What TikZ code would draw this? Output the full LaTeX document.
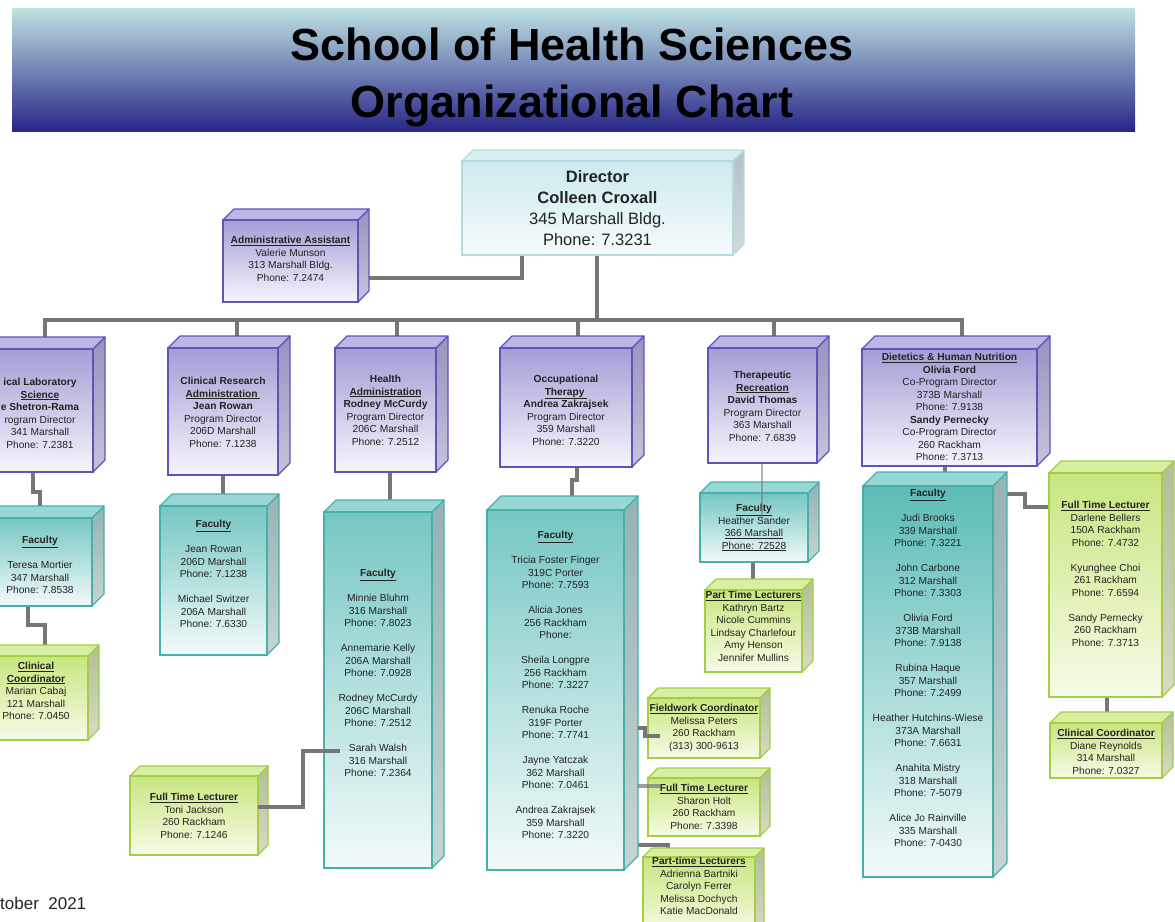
\documentclass[tikz,border=0pt]{standalone}
\usepackage{fontspec}
\setmainfont{Liberation Sans}
\usetikzlibrary{backgrounds}
\definecolor{purline}{RGB}{92,86,186}
\definecolor{purA}{RGB}{163,158,214}
\definecolor{purB}{RGB}{246,245,252}
\definecolor{purT}{RGB}{186,183,229}
\definecolor{purS}{RGB}{150,147,190}
\definecolor{tealine}{RGB}{72,176,170}
\definecolor{teaA}{RGB}{118,199,194}
\definecolor{teaB}{RGB}{242,250,250}
\definecolor{teaT}{RGB}{152,216,212}
\definecolor{teaS}{RGB}{150,178,178}
\definecolor{dteA}{RGB}{92,188,182}
\definecolor{greline}{RGB}{162,206,72}
\definecolor{greA}{RGB}{200,230,128}
\definecolor{greB}{RGB}{246,251,230}
\definecolor{greT}{RGB}{216,238,160}
\definecolor{greS}{RGB}{180,190,152}
\definecolor{dirline}{RGB}{176,220,224}
\definecolor{dirA}{RGB}{204,234,238}
\definecolor{dirB}{RGB}{246,251,252}
\definecolor{dirT}{RGB}{216,238,240}
\definecolor{dirS}{RGB}{180,194,196}
\definecolor{conngray}{RGB}{118,118,118}
\definecolor{txt}{RGB}{35,35,35}
\definecolor{banA}{RGB}{190,226,226}
\definecolor{banB}{RGB}{40,38,136}
\tikzset{
  x=1pt, y=-1pt,
  boxtext/.style={align=center, inner sep=0pt, text=txt, font=\fontsize{10.2}{12.5}\selectfont},
  conn/.style={draw=conngray, line width=3.2pt},
  % purple
  purfront/.style={draw=purline, line width=1.1pt, top color=purA, bottom color=purB},
  purtopf/.style={fill=purT, draw=purline, line width=1.1pt, line join=round},
  purside/.style={top color=purS, bottom color=purS!55!white, draw=purline, line width=1.1pt, line join=round},
  purtext/.style={boxtext},
  % teal
  teafront/.style={draw=tealine, line width=1.1pt, top color=teaA, bottom color=teaB},
  teatopf/.style={fill=teaT, draw=tealine, line width=1.1pt, line join=round},
  teaside/.style={top color=teaS, bottom color=teaS!55!white, draw=tealine, line width=1.1pt, line join=round},
  teatext/.style={boxtext},
  % dark teal
  dtefront/.style={draw=tealine, line width=1.1pt, top color=dteA, bottom color=teaB},
  dtetopf/.style={teatopf},
  dteside/.style={teaside},
  dtetext/.style={boxtext},
  % green
  grefront/.style={draw=greline, line width=1.1pt, top color=greA, bottom color=greB},
  gretopf/.style={fill=greT, draw=greline, line width=1.1pt, line join=round},
  greside/.style={top color=greS, bottom color=greS!55!white, draw=greline, line width=1.1pt, line join=round},
  gretext/.style={boxtext},
  % director
  dirfront/.style={draw=dirline, line width=1.1pt, top color=dirA, bottom color=dirB},
  dirtopf/.style={fill=dirT, draw=dirline, line width=1.1pt, line join=round},
  dirside/.style={top color=dirS, bottom color=dirS!60!white, draw=dirline, line width=1.1pt, line join=round},
  dirtext/.style={align=center, inner sep=0pt, text=txt, font=\fontsize{16.5}{21}\selectfont},
  banner/.style={top color=banA, bottom color=banB, inner sep=0pt},
  titletext/.style={inner sep=0pt, anchor=base, font=\fontsize{45}{57}\selectfont\bfseries, text=black},
}
% #1 name #2 kind #3 x1 #4 y1 #5 x2 #6 y2 #7 depth #8 text top #9 text
\newcommand{\isobox}[9]{%
  \path[#2side] (#5,#4) -- ({#5+#7},{#4-#7}) -- ({#5+#7},{#6-#7}) -- (#5,#6) -- cycle;
  \path[#2topf] (#3,#4) -- ({#3+#7},{#4-#7}) -- ({#5+#7},{#4-#7}) -- (#5,#4) -- cycle;
  \node[#2front, anchor=north west, inner sep=0pt, outer sep=0pt,
        minimum width={((#5)-(#3))*1pt}, minimum height={((#6)-(#4))*1pt}] (#1) at (#3,#4) {};
  \node[#2text, anchor=north] (#1-t) at ({((#3)+(#5))/2},#8) {#9};
}
\newcommand{\hd}[1]{\textbf{\underline{#1}}}
\begin{document}
\begin{tikzpicture}
\useasboundingbox (0,0) rectangle (1175,921);
\begin{pgfonlayer}{background}
\fill[white] (0,0) rectangle (1175,921);
\end{pgfonlayer}

% title banner
\node[banner, anchor=north west, minimum width=1123pt, minimum height=123pt] (banner) at (12,8) {};
\node[titletext] (title1) at (572,60) {School of Health Sciences};
\node[titletext] (title2) at (572,117) {Organizational Chart};

% director and admin
\isobox{dir}{dir}{462}{161}{733}{255}{11}{170}{\textbf{Director}\\\textbf{Colleen Croxall}\\345 Marshall Bldg.\\Phone: 7.3231}
\isobox{adm}{pur}{223}{220}{358}{302}{11}{236}{\hd{Administrative Assistant}\\Valerie Munson\\313 Marshall Bldg.\\Phone: 7.2474}

% program boxes
\isobox{cl}{pur}{-13}{349}{93}{472}{12}{378}{\textbf{ical Laboratory}\\\hd{Science}\\\textbf{e Shetron-Rama}\\rogram Director\\341 Marshall\\Phone: 7.2381}
\isobox{cr}{pur}{168}{348}{278}{475}{12}{377}{\textbf{Clinical Research}\\\hd{Administration }\\\textbf{Jean Rowan}\\Program Director\\206D Marshall\\Phone: 7.1238}
\isobox{ha}{pur}{335}{348}{436}{472}{12}{375}{\textbf{Health}\\\hd{Administration}\\\textbf{Rodney McCurdy}\\Program Director\\206C Marshall\\Phone: 7.2512}
\isobox{ot}{pur}{500}{348}{632}{467}{12}{375}{\textbf{Occupational}\\\hd{Therapy }\\\textbf{Andrea Zakrajsek}\\Program Director\\359 Marshall\\Phone: 7.3220}
\isobox{tr}{pur}{708}{348}{817}{463}{12}{371}{\textbf{Therapeutic}\\\hd{Recreation}\\\textbf{David Thomas}\\Program Director\\363 Marshall\\Phone: 7.6839}
\isobox{dt}{pur}{862}{349}{1037}{466}{13}{353}{\hd{Dietetics \& Human Nutrition}\\\textbf{Olivia Ford}\\Co-Program Director\\373B Marshall\\Phone: 7.9138\\\textbf{Sandy Pernecky}\\Co-Program Director\\260 Rackham\\Phone: 7.3713}

% faculty boxes
\isobox{clf}{tea}{-12}{518}{92}{606}{12}{536}{\hd{Faculty}\\[12.5pt]Teresa Mortier\\347 Marshall\\Phone: 7.8538}
\isobox{crf}{tea}{160}{506}{267}{655}{12}{520}{\hd{Faculty}\\[12.5pt]Jean Rowan\\206D Marshall\\Phone: 7.1238\\[12.5pt]Michael Switzer\\206A Marshall\\Phone: 7.6330}
\isobox{haf}{tea}{324}{512}{432}{868}{12}{569}{\hd{Faculty}\\[12.5pt]Minnie Bluhm\\316 Marshall\\Phone: 7.8023\\[12.5pt]Annemarie Kelly\\206A Marshall\\Phone: 7.0928\\[12.5pt]Rodney McCurdy\\206C Marshall\\Phone: 7.2512\\[12.5pt]Sarah Walsh\\316 Marshall\\Phone: 7.2364}
\isobox{otf}{tea}{487}{510}{624}{870}{14}{531}{\hd{Faculty}\\[12.5pt]Tricia Foster Finger\\319C Porter\\Phone: 7.7593\\[12.5pt]Alicia Jones\\256 Rackham\\Phone:\\[12.5pt]Sheila Longpre\\256 Rackham\\Phone: 7.3227\\[12.5pt]Renuka Roche\\319F Porter\\Phone: 7.7741\\[12.5pt]Jayne Yatczak\\362 Marshall\\Phone: 7.0461\\[12.5pt]Andrea Zakrajsek\\359 Marshall\\Phone: 7.3220}
\isobox{trf}{tea}{700}{493}{808}{562}{11}{504}{\hd{Faculty}\\Heather Sander\\\underline{366 Marshall}\\\underline{Phone: 72528}}
\isobox{dtf}{dte}{863}{486}{993}{877}{14}{489}{\hd{Faculty}\\[12.5pt]Judi Brooks\\339 Marshall\\Phone: 7.3221\\[12.5pt]John Carbone\\312 Marshall\\Phone: 7.3303\\[12.5pt]Olivia Ford\\373B Marshall\\Phone: 7.9138\\[12.5pt]Rubina Haque\\357 Marshall\\Phone: 7.2499\\[12.5pt]Heather Hutchins-Wiese\\373A Marshall\\Phone: 7.6631\\[12.5pt]Anahita Mistry\\318 Marshall\\Phone: 7-5079\\[12.5pt]Alice Jo Rainville\\335 Marshall\\Phone: 7-0430}

% green boxes
\isobox{clc}{gre}{-16}{656}{88}{740}{11}{662}{\hd{Clinical}\\\hd{Coordinator}\\Marian Cabaj\\121 Marshall\\Phone: 7.0450}
\isobox{ftla}{gre}{130}{776}{258}{855}{10}{793}{\hd{Full Time Lecturer}\\Toni Jackson\\260 Rackham\\Phone: 7.1246}
\isobox{fw}{gre}{648}{698}{760}{758}{10}{704}{\hd{Fieldwork Coordinator}\\Melissa Peters\\260 Rackham\\(313) 300-9613}
\isobox{ftlb}{gre}{648}{778}{760}{836}{10}{784}{\hd{Full Time Lecturer}\\Sharon Holt\\260 Rackham\\Phone: 7.3398}
\isobox{ptl}{gre}{643}{857}{755}{935}{9}{857}{\hd{Part-time Lecturers}\\Adrienna Bartniki\\Carolyn Ferrer\\Melissa Dochych\\Katie MacDonald}
\isobox{trp}{gre}{705}{590}{802}{672}{11}{591}{\hd{Part Time Lecturers}\\Kathryn Bartz\\Nicole Cummins\\Lindsay Charlefour\\Amy Henson\\Jennifer Mullins}
\isobox{dtl}{gre}{1049}{473}{1162}{697}{12}{501}{\hd{Full Time Lecturer}\\Darlene Bellers\\150A Rackham\\Phone: 7.4732\\[12.5pt]Kyunghee Choi\\261 Rackham\\Phone: 7.6594\\[12.5pt]Sandy Pernecky\\260 Rackham\\Phone: 7.3713}
\isobox{dtc}{gre}{1050}{723}{1162}{778}{11}{729}{\hd{Clinical Coordinator}\\Diane Reynolds\\314 Marshall\\Phone: 7.0327}

% date
\node[anchor=base west, inner sep=0pt, font=\fontsize{17}{19}\selectfont, text=txt] (date) at (0,909) {tober\ \ 2021};

% connectors behind the boxes
\begin{pgfonlayer}{background}
\coordinate (bus) at (597,320);
\draw[conn] (dir.south -| 522,0) |- (adm.east |- 0,278);
\draw[conn, line width=4.5pt] (dir.south -| bus) -- (bus);
\draw[conn] (cl.north -| 45,0) |- (bus) -| (dt.north -| 962,0);
\foreach \n/\xx in {cr/237, ha/397, ot/578, tr/774} {
  \draw[conn] (\n.north -| \xx,0) -- (\xx,320);
}
\draw[conn] (cl.south -| 33,0) |- (40,492) -- (clf.north -| 40,0);
\draw[conn] (clf.south -| 28,0) |- (45,625) -- (clc.north -| 45,0);
\draw[conn] (cr.south -| 223,0) -- (crf.north -| 223,0);
\draw[conn] (ha.south -| 390,0) -- (haf.north -| 390,0);
\draw[conn] (ot.south -| 577,0) |- (572,480) -- (otf.north -| 572,0);
\draw[conn] (trf.south -| 753,0) -- (trp.north -| 753,0);
\draw[conn] (dt.south -| 945,0) -- (dtf.north -| 945,0);
\draw[conn] (dtf.east |- 0,494) -- (1025,494) |- (dtl.west |- 0,507);
\draw[conn] (dtl.south -| 1107,0) -- (dtc.north -| 1107,0);
\draw[conn] (otf.east |- 0,845) -| (ptl.north -| 668,0);
\end{pgfonlayer}

% connectors that run over the boxes
\draw[conn] (ftla.east |- 0,807) -- (303,807) |- ([xshift=16pt]haf.west |- 0,751);
\draw[conn] ([xshift=14pt]otf.east |- 0,728) -- (645,728) |- ([xshift=12pt]fw.west |- 0,736);
\draw[conn, opacity=0.7] ([xshift=14pt]otf.east |- 0,786) -- ([xshift=12pt]ftlb.west |- 0,786);
\draw[conn, opacity=0.55, line width=2.6pt] (tr.south -| 762,0) -- (trf.north -| 762,0) -- (762,522);
\end{tikzpicture}
\end{document}
